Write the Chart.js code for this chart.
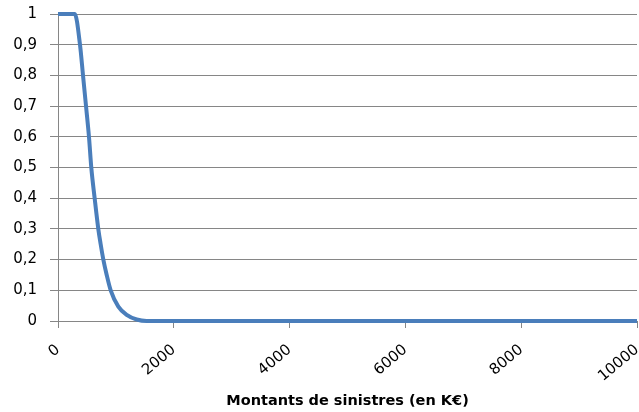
<!DOCTYPE html>
<html>
<head>
<meta charset="utf-8">
<script src="https://cdn.jsdelivr.net/npm/chart.js"></script>
<style>
  html, body { margin: 0; padding: 0; background: #fff; }
  #wrap { width: 639px; height: 412px; position: relative; }
</style>
</head>
<body>
<div id="wrap"><canvas id="chart"></canvas></div>
<script>
// amounts of claims (K€) and the probability
const montants = [0, 290, 380, 432, 484, 535, 575, 633, 696, 737, 783, 841, 910, 1042, 1186, 1359, 1530, 2000, 10000];
const proba    = [1, 1, 0.9, 0.8, 0.7, 0.6, 0.5, 0.4, 0.3, 0.25, 0.2, 0.15, 0.1, 0.047, 0.02, 0.005, 0, 0, 0];
const xTicks = [0, 2000, 4000, 6000, 8000, 10000];
const yTicks = [0, 0.1, 0.2, 0.3, 0.4, 0.5, 0.6, 0.7, 0.8, 0.9, 1];
const xTitle = "Montants de sinistres (en K€)";

const points = montants.map((m, i) => ({ x: m, y: proba[i] }));

new Chart(document.getElementById("chart"), {
    type: "line",
    data: {
        datasets: [{
            data: points,
            borderColor: "#4a7ebb",
            borderWidth: 4,
            pointRadius: 0,
            cubicInterpolationMode: "monotone",
            clip: 6,
            fill: false
        }]
    },
    options: {
        responsive: true,
        maintainAspectRatio: false,
        animation: false,
        layout: { padding: { top: 0, right: 2, left: 0, bottom: 0 } },
        plugins: { legend: { display: false }, tooltip: { enabled: false } },
        scales: {
            x: {
                type: "linear",
                min: 0,
                max: 10000,
                afterBuildTicks: axis => { axis.ticks = xTicks.map(v => ({ value: v })); },
                afterFit: axis => {
                    axis.height = 91;
                    axis.paddingLeft = 0;
                    axis.paddingRight = 0;
                },
                ticks: {
                    minRotation: 40,
                    maxRotation: 40,
                    color: "#000",
                    padding: 13,
                    font: { family: "DejaVu Sans", size: 15 },
                    callback: v => String(v)
                },
                grid: { drawOnChartArea: false, drawTicks: true, tickLength: 7, color: "#868686" },
                border: { color: "#868686", width: 1 },
                title: {
                    display: true,
                    text: xTitle,
                    color: "#000",
                    font: { family: "DejaVu Sans", size: 14.5, weight: "bold" },
                    padding: { top: 4, bottom: 2 }
                }
            },
            y: {
                min: 0,
                max: 1,
                afterBuildTicks: axis => { axis.ticks = yTicks.map(v => ({ value: v })); },
                afterFit: axis => {
                    axis.width = 58;
                    axis.paddingTop = 14;
                    axis.paddingBottom = 0;
                },
                ticks: {
                    color: "#000",
                    padding: 13,
                    font: { family: "DejaVu Sans", size: 15 },
                    callback: v => String(Math.round(v * 10) / 10).replace(".", ",")
                },
                grid: { color: "#868686", tickLength: 8 },
                border: { color: "#868686", width: 1 }
            }
        }
    }
});
</script>
</body>
</html>
